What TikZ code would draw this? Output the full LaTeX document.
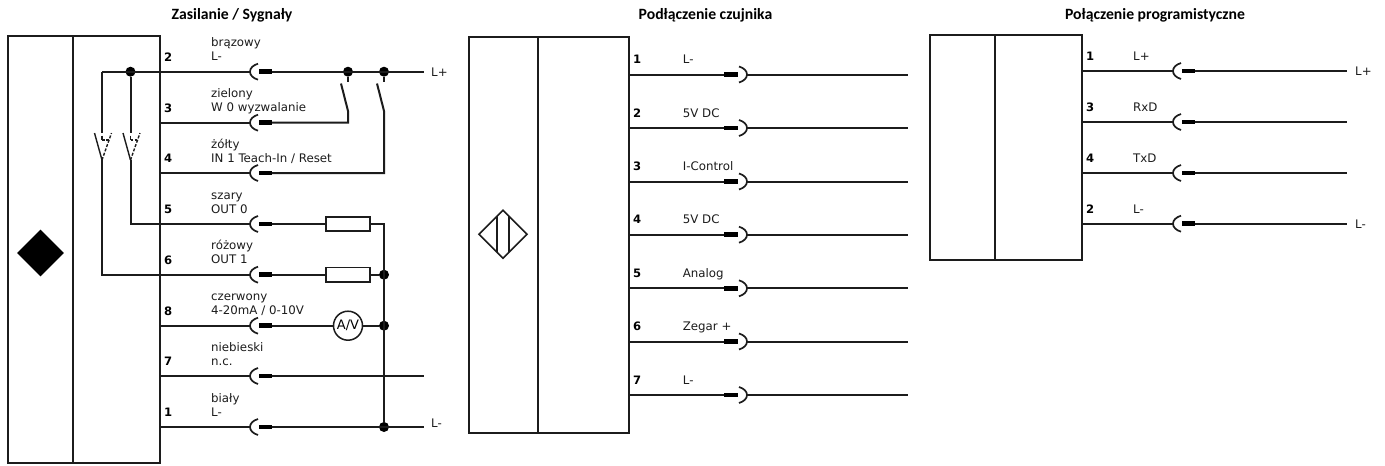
\documentclass[tikz,border=0pt]{standalone}
\usepackage{fontspec}
\usetikzlibrary{shapes.geometric}
\setmainfont{DejaVu Sans}
\newfontfamily\titlefont{Carlito}
\definecolor{ink}{HTML}{1C1C1C}
\tikzset{
  x=1pt,y=-1pt,
  wire/.style={draw=ink,line width=2pt},
  cell/.style={draw=ink,line width=2pt},
  dot/.style={circle,fill=black,inner sep=0pt,minimum size=10pt},
  ttl/.style={font=\titlefont\bfseries\fontsize{15.7}{17}\selectfont,text=black,inner sep=0pt},
  lbl/.style={font=\fontsize{11.8}{13}\selectfont,text=ink,anchor=base west,inner sep=0pt},
  pin/.style={font=\bfseries\fontsize{11.6}{13}\selectfont,text=black,anchor=base west,inner sep=0pt},
  res/.style={draw=ink,line width=1.6pt,fill=white,minimum width=44pt,minimum height=14.5pt,inner sep=0pt},
  meter/.style={circle,draw=ink,line width=1.5pt,fill=white,minimum size=29pt,inner sep=0pt,font=\fontsize{13}{14}\selectfont},
  pics/sockL/.style={code={
    \coordinate (in) at (0,0);
    \coordinate (out) at (22,0);
    \draw[ink,line width=1.7pt] (8,-8) .. controls (3,-6.5) and (0,-3.5) .. (0,0) .. controls (0,3.5) and (3,6.5) .. (8,8);
    \fill[black] (9,-2.4) rectangle (22,2.4);
  }},
  pics/sockR/.style={code={
    \coordinate (in) at (0,0);
    \coordinate (out) at (23,0);
    \fill[black] (0,-2.4) rectangle (14,2.4);
    \draw[ink,line width=1.7pt] (15,-8) .. controls (20,-6.5) and (23,-3.5) .. (23,0) .. controls (23,3.5) and (20,6.5) .. (15,8);
  }},
  pics/tap/.style={code={
    \coordinate (top) at (0,-27);
    \coordinate (bot) at (0,0);
    \draw[ink,line width=1.4pt] (-7.5,-27) -- (0,0);
    \draw[ink,line width=1.4pt,dash pattern=on 3pt off 1.6pt] (0,0) -- (9.5,-27);
    \draw[ink,line width=1.4pt,dash pattern=on 2.5pt off 1.5pt] (0,-20) -- (7,-20);
    \draw[ink,line width=1.4pt] (0,-24.5) -- (0,-20);
  }},
}
\begin{document}
\begin{tikzpicture}
\useasboundingbox (0,0) rectangle (1385,466);
\fill[white] (0,0) rectangle (1385,466);

% ---------- titles
\node[ttl] (t1) at (232,15) {Zasilanie / Sygnały};
\node[ttl] (t2) at (705.5,15) {Podłączenie czujnika};
\node[ttl] (t3) at (1155,15) {Połączenie programistyczne};

% ---------- left panel
\draw[cell] (7.5,36) rectangle (160,462.5);
\draw[cell] (73,36) -- (73,462.5);
\node[diamond,fill=black,aspect=1,minimum size=47pt,inner sep=0pt] (d1) at (40.5,253) {};

\foreach \n/\y in {2/71.7,3/122.7,4/173,5/224,6/274.7,8/325.7,7/376,1/427}{
  \coordinate (b\n) at (160,\y);
  \pic (s\n) at (250,\y) {sockL};
}
\foreach \n/\y/\a/\b in {2/71.7/brązowy/L-,3/122.7/zielony/{W 0 wyzwalanie},4/173/żółty/{IN 1 Teach-In / Reset},5/224/szary/{OUT 0},6/274.7/różowy/{OUT 1},8/325.7/czerwony/{4-20mA / 0-10V},7/376/niebieski/n.c.,1/427/biały/L-}{
  \node[lbl] (la\n) at (211,\y-25) {\a};
  \node[lbl] (lb\n) at (211,\y-11) {\b};
  \node[pin] (pn\n) at (164,\y-10.5) {\n};
}

% row 2 and the two contacts
\coordinate (lp) at (424,71.7);
\coordinate (w1) at (102,71.7);
\node[dot] (j0) at (130.5,71.7) {};
\node[dot] (j1) at (348,71.7) {};
\node[dot] (j2) at (384,71.7) {};
\node[lbl,anchor=west] (lplus) at (431,71.7) {L+};
\draw[wire] (w1) -- (s2in);
\draw[wire] (s2out) -- (lp);

% contacts to L+
\coordinate (c1a) at (348,82);
\coordinate (c1b) at (341,83.5);
\coordinate (c1c) at (348,111);
\coordinate (c2a) at (384,82);
\coordinate (c2b) at (377,83.5);
\coordinate (c2c) at (384,111);
\draw[wire] (j1) -- (c1a);
\draw[wire] (j2) -- (c2a);
\draw[wire] (b3) -- (s3in);
\draw[wire] (s3out) -| (c1c) -- (c1b);
\draw[wire] (b4) -- (s4in);
\draw[wire] (s4out) -| (c2c) -- (c2b);

% dashed changeover marks and return wires
\pic (k1) at (102,160) {tap};
\pic (k2) at (130.5,160) {tap};
\draw[wire] (w1) -- (k1top);
\draw[wire] (j0) -- (k2top);
\draw[wire] (k2bot) |- (s5in);
\draw[wire] (k1bot) |- (s6in);

% load side
\node[res] (r5) at (348,224) {};
\node[res] (r6) at (348,274.7) {};
\node[meter] (av) at (348,325.7) {A/V};
\node[dot] (j6) at (384,274.7) {};
\node[dot] (j8) at (384,325.7) {};
\node[dot] (j1b) at (384,427) {};
\draw[wire] (s5out) -- (r5);
\draw[wire] (s6out) -- (r6);
\draw[wire] (s8out) -- (av);
\draw[wire] (r6) -- (j6);
\draw[wire] (av) -- (j8);
\draw[wire] (r5.east) -| (j1b);
\coordinate (nc) at (424,376);
\coordinate (lm) at (424,427);
\draw[wire] (b8) -- (s8in);
\draw[wire] (b7) -- (s7in);
\draw[wire] (s7out) -- (nc);
\draw[wire] (b1) -- (s1in);
\draw[wire] (s1out) -- (lm);
\node[lbl,anchor=west] (lminus) at (431,423) {L-};

% ---------- middle panel
\draw[cell] (468.5,36.5) rectangle (629,432.7);
\draw[cell] (537.7,36.5) -- (537.7,432.7);
\draw[ink,line width=1.6pt] (503,210.3) -- (527,234.3) -- (503,258.3) -- (479,234.3) -- cycle;
\draw[ink,line width=1.6pt] (497,216.3) -- (497,252.3);
\draw[ink,line width=1.6pt] (509,216.3) -- (509,252.3);

\foreach \n/\y/\t in {1/74.5/L-,2/128/{5V DC},3/181.5/I-Control,4/234.7/{5V DC},5/288.3/Analog,6/341.5/{Zegar +},7/395/L-}{
  \coordinate (mb\n) at (629,\y);
  \coordinate (me\n) at (908,\y);
  \pic (m\n) at (724,\y) {sockR};
  \draw[wire] (mb\n) -- (m\n in);
  \draw[wire] (m\n out) -- (me\n);
  \node[pin] (mp\n) at (633,\y-11) {\n};
  \node[lbl] (ml\n) at (682.7,\y-11) {\t};
}

% ---------- right panel
\draw[cell] (929.5,35) rectangle (1082,260);
\draw[cell] (995,35) -- (995,260);
\foreach \n/\y/\t in {1/71/L+,3/122/RxD,4/173/TxD,2/223.7/L-}{
  \coordinate (rb\n) at (1082,\y);
  \coordinate (re\n) at (1347,\y);
  \pic (q\n) at (1173,\y) {sockL};
  \draw[wire] (rb\n) -- (q\n in);
  \draw[wire] (q\n out) -- (re\n);
  \node[pin] (rp\n) at (1086,\y-10.5) {\n};
  \node[lbl] (rl\n) at (1133,\y-10.5) {\t};
}
\node[lbl,anchor=west] (rlp) at (1355,71) {L+};
\node[lbl,anchor=west] (rlm) at (1355,223.7) {L-};
\end{tikzpicture}
\end{document}
